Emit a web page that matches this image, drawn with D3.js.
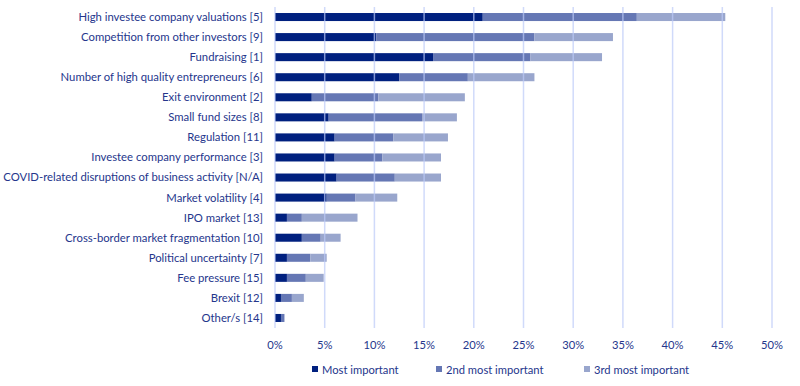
<!DOCTYPE html>
<html>
<head>
<meta charset="utf-8">
<script src="https://cdn.jsdelivr.net/npm/d3@7"></script>
<style>
  body { margin: 0; background: #fff; }
  svg text { font-family: Lato, "Open Sans", sans-serif; fill: #25368c; }
</style>
</head>
<body>
<svg id="chart" width="800" height="386"></svg>
<script>
var categories = [
    "High investee company valuations [5]",
    "Competition from other investors [9]",
    "Fundraising [1]",
    "Number of high quality entrepreneurs [6]",
    "Exit environment [2]",
    "Small fund sizes [8]",
    "Regulation [11]",
    "Investee company performance [3]",
    "COVID-related disruptions of business activity [N/A]",
    "Market volatility [4]",
    "IPO market [13]",
    "Cross-border market fragmentation [10]",
    "Political uncertainty [7]",
    "Fee pressure [15]",
    "Brexit [12]",
    "Other/s [14]"
];
var mostImportant = [20.9, 10.2, 15.9, 12.5, 3.7, 5.4, 6.0, 6.0, 6.2, 5.2, 1.2, 2.7, 1.2, 1.2, 0.6, 0.6];
var secondImportant = [15.5, 15.9, 9.8, 6.9, 6.7, 9.4, 5.9, 4.8, 5.85, 2.9, 1.5, 1.9, 2.35, 1.9, 1.1, 0.35];
var thirdImportant = [8.9, 7.9, 7.2, 6.7, 8.7, 3.5, 5.5, 5.9, 4.65, 4.2, 5.6, 2.0, 1.65, 1.8, 1.2, 0];
var seriesNames = ["Most important", "2nd most important", "3rd most important"];
var xTicks = [0, 5, 10, 15, 20, 25, 30, 35, 40, 45, 50];

var colors = ["#00207f", "#6577b4", "#99a6cd"];

var svg = d3.select("#chart");
var margin = { left: 275, right: 28, top: 7, bottom: 58 };
var width = 800 - margin.left - margin.right;
var height = 386 - margin.top - margin.bottom;

var rows = categories.map(function (c, i) {
    return { cat: c, v: [mostImportant[i], secondImportant[i], thirdImportant[i]] };
});
var stack = d3.stack().keys([0, 1, 2]).value(function (d, k) { return d.v[k]; });
var layers = stack(rows);

var x = d3.scaleLinear().domain([0, 50]).range([0, 497]);
var y = d3.scaleBand().domain(categories).range([0, height]).paddingInner(0.6).paddingOuter(0.3);

var g = svg.append("g").attr("transform", "translate(" + margin.left + "," + margin.top + ")");

g.append("g")
    .selectAll("g")
    .data(layers)
    .enter()
    .append("g")
    .attr("fill", function (d, i) { return colors[i]; })
    .selectAll("rect")
    .data(function (d) { return d; })
    .enter()
    .append("rect")
    .attr("x", function (d) { return x(d[0]); })
    .attr("width", function (d) { return x(d[1]) - x(d[0]); })
    .attr("y", function (d) { return y(d.data.cat); })
    .attr("height", y.bandwidth());

// gridlines sit over the bars, like in the original
g.append("g")
    .selectAll("line")
    .data(xTicks)
    .enter()
    .append("line")
    .attr("x1", function (d) { return x(d); })
    .attr("x2", function (d) { return x(d); })
    .attr("y1", 0)
    .attr("y2", height)
    .attr("stroke", "#bccaf8")
    .attr("stroke-opacity", 0.7)
    .attr("stroke-width", 1.5);

g.append("g")
    .selectAll("text")
    .data(xTicks)
    .enter()
    .append("text")
    .attr("x", function (d) { return x(d); })
    .attr("y", height + 21)
    .attr("text-anchor", "middle")
    .attr("font-size", 11.2)
    .text(function (d) { return d + "%"; });

g.append("g")
    .selectAll("text")
    .data(categories)
    .enter()
    .append("text")
    .attr("x", -12)
    .attr("y", function (d) { return y(d) + y.bandwidth() / 2; })
    .attr("dy", "0.35em")
    .attr("text-anchor", "end")
    .attr("font-size", 11.3)
    .text(function (d) { return d; });

var legendX = [312, 436, 584];
var legend = svg.append("g")
    .selectAll("g")
    .data(seriesNames)
    .enter()
    .append("g")
    .attr("transform", function (d, i) { return "translate(" + legendX[i] + ",370)"; });

legend.append("rect")
    .attr("x", 0)
    .attr("y", -4)
    .attr("width", 6)
    .attr("height", 6)
    .attr("fill", function (d, i) { return colors[i]; });

legend.append("text")
    .attr("x", 10)
    .attr("y", 0)
    .attr("dy", "0.32em")
    .attr("font-size", 11.2)
    .text(function (d) { return d; });
</script>
</body>
</html>
